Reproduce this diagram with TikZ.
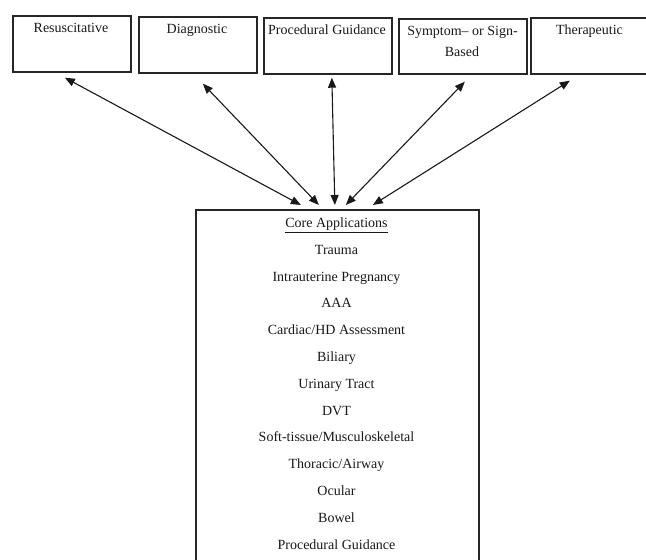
\documentclass[tikz,border=0pt]{standalone}
\usepackage{fontspec}
\setmainfont{Liberation Serif}
\usetikzlibrary{arrows.meta}
\begin{document}
\begin{tikzpicture}[x=1pt,y=-1pt,
  box/.style={draw=black!85,line width=1.7pt,inner sep=0pt,anchor=north west},
  lbl/.style={anchor=base,inner sep=0pt,font=\fontsize{14}{21}\selectfont,text=black!90},
  arr/.style={{Triangle[length=10pt,width=8pt]}-{Triangle[length=10pt,width=8pt]},line width=1.1pt,draw=black!90}]
\useasboundingbox (0,0) rectangle (646,560);
\clip (0,0) rectangle (646,560);
\fill[white] (0,0) rectangle (646,560);
% top boxes
\node[box,minimum width=118pt,minimum height=56pt] (res) at (12,15) {};
\node[box,minimum width=118pt,minimum height=56pt] (dia) at (138,16) {};
\node[box,minimum width=128pt,minimum height=56pt] (pro) at (263,17) {};
\node[box,minimum width=128pt,minimum height=55pt] (sym) at (398,18) {};
\node[box,minimum width=119pt,minimum height=56pt] (the) at (530,17) {};
% top labels
\node[lbl] (tres) at (71,32) {Resuscitative};
\node[lbl] (tdia) at (197,33) {Diagnostic};
\node[lbl] (tpro) at (327,34) {Procedural Guidance};
\node[lbl] (tsym1) at (462.5,35) {Symptom– or Sign-};
\node[lbl] (tsym2) at (462,56) {Based};
\node[lbl] (tthe) at (589.5,34) {Therapeutic};
% core box
\node[box,minimum width=283pt,minimum height=400pt] (core) at (195,209) {};
\foreach [count=\i from 0] \t in {{\underline{Core Applications}},Trauma,Intrauterine Pregnancy,AAA,Cardiac/HD Assessment,Biliary,Urinary Tract,DVT,Soft-tissue/Musculoskeletal,Thoracic/Airway,Ocular,Bowel,Procedural Guidance}
  \node[lbl] (l\i) at (336.5,227.5+26.8*\i) {\t};
% arrows
\draw[arr] ([shift={(-7,5)}]res.south) -- ([shift={(-36.5,-4)}]core.north);
\draw[arr] ([shift={(5,10)}]dia.south) -- ([shift={(-18.5,-4)}]core.north);
\draw[arr] ([shift={(4,3)}]pro.south) -- ([shift={(-2.5,-4)}]core.north);
\draw[arr] ([shift={(2,7)}]sym.south) -- ([shift={(8.5,-4)}]core.north);
\draw[arr] ([shift={(-20.5,6)}]the.south) -- ([shift={(35.5,-4)}]core.north);
\end{tikzpicture}
\end{document}
